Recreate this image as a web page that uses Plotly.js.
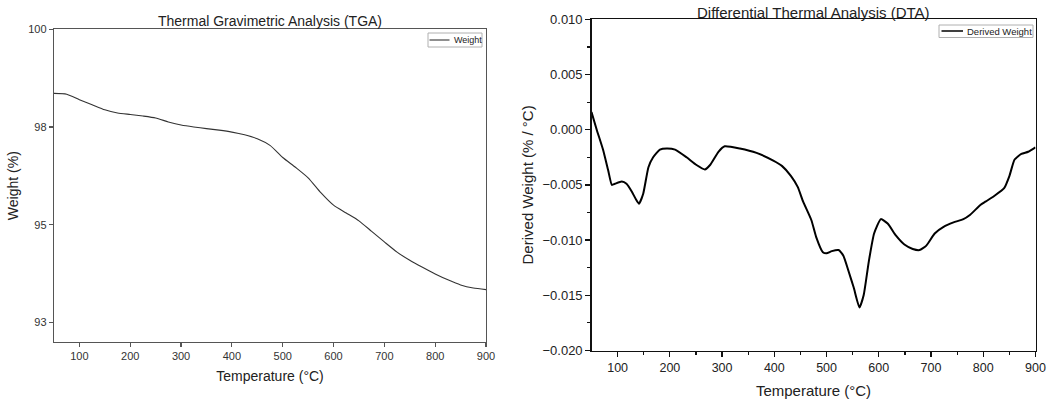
<!DOCTYPE html>
<html>
<head>
<meta charset="utf-8">
<script src="https://cdn.plot.ly/plotly-3.0.1.min.js"></script>
<style>html,body{margin:0;padding:0;background:#fff;}#chart{width:1051px;height:400px;}</style>
</head>
<body>
<div id="chart"></div>
<script>
// TGA: temperature (°C) and weight (%)
const tgaTemp = [50,75,100,125,150,175,200,225,250,275,300,325,350,375,400,425,450,475,500,525,550,575,600,625,650,675,700,725,750,775,800,825,850,875,900];
const tgaWeight = [98.36,98.34,98.20,98.07,97.94,97.86,97.82,97.78,97.73,97.63,97.55,97.50,97.46,97.42,97.37,97.30,97.20,97.03,96.72,96.47,96.20,95.82,95.50,95.30,95.10,94.83,94.56,94.30,94.09,93.91,93.74,93.59,93.46,93.38,93.34];

// DTA: temperature (°C) and derived weight (% / °C)
const dtaTemp = [50,60,72,82,89,95,108,117,127,135,141,149,159,168,181,194,210,232,251,267,277,293,305,334,366,398,415,432,445,455,471,480,493,500,510,523,532,542,552,563,571,581,591,604,617,633,649,665,678,691,707,724,743,762,775,795,805,821,840,850,860,873,886,900];
const dtaDeriv = [0.0016,0.0000,-0.0018,-0.0037,-0.0050,-0.0049,-0.0047,-0.0049,-0.0056,-0.0063,-0.0067,-0.0058,-0.0034,-0.0025,-0.0018,-0.0017,-0.0018,-0.0025,-0.0032,-0.0036,-0.0032,-0.0020,-0.0015,-0.0017,-0.0021,-0.0028,-0.0033,-0.0042,-0.0052,-0.0065,-0.0082,-0.0097,-0.0111,-0.0112,-0.0110,-0.0109,-0.0114,-0.0128,-0.0143,-0.0161,-0.0150,-0.0119,-0.0094,-0.0081,-0.0085,-0.0096,-0.0104,-0.0108,-0.0109,-0.0105,-0.0094,-0.0088,-0.0084,-0.0081,-0.0077,-0.0068,-0.0065,-0.0060,-0.0053,-0.0042,-0.0027,-0.0022,-0.0020,-0.0016];

// Tick labels
const tempTicks = [100,200,300,400,500,600,700,800,900];
const weightTickVals = [92.5,95,97.5,100];
const weightTickText = ['93','95','98','100'];
const seriesNames = ['Weight','Derived Weight'];

const FONT = 'Liberation Sans, Arial, sans-serif';
const W = 1051, H = 400;
const px = v => v / W;
const py = v => 1 - v / H;

const traces = [
  {x: tgaTemp, y: tgaWeight, type: 'scatter', mode: 'lines', name: seriesNames[0],
   line: {color: '#333', width: 1.1, shape: 'spline', smoothing: 0.6},
   xaxis: 'x', yaxis: 'y', showlegend: false},
  {x: dtaTemp, y: dtaDeriv, type: 'scatter', mode: 'lines', name: seriesNames[1],
   line: {color: '#000', width: 2, shape: 'spline', smoothing: 0.5},
   xaxis: 'x2', yaxis: 'y2', showlegend: false}
];

const leftAxisCommon = {
  showline: true, linecolor: '#555', linewidth: 1.2, mirror: true,
  showgrid: false, zeroline: false, ticks: 'outside', ticklen: 4, tickwidth: 1.2, tickcolor: '#555',
  tickfont: {family: FONT, size: 11, color: '#333'}
};
const rightAxisCommon = {
  showline: true, linecolor: '#111', linewidth: 1.3, mirror: true,
  showgrid: false, zeroline: false, ticks: 'outside', ticklen: 5, tickwidth: 1.3, tickcolor: '#111',
  tickfont: {family: FONT, size: 12.5, color: '#222'}
};

const layout = {
  width: W, height: H,
  margin: {l: 0, r: 0, t: 0, b: 0},
  paper_bgcolor: '#fff', plot_bgcolor: '#fff',
  font: {family: FONT, color: '#222'},
  showlegend: false,
  xaxis: Object.assign({}, leftAxisCommon, {
    domain: [px(54), px(486)], range: [50, 900], tickvals: tempTicks,
    title: {text: 'Temperature (°C)', font: {family: FONT, size: 14, color: '#222'}, standoff: 9},
    anchor: 'y'
  }),
  yaxis: Object.assign({}, leftAxisCommon, {
    domain: [py(342), py(29.3)], range: [92, 100],
    tickvals: weightTickVals, ticktext: weightTickText,
    title: {text: 'Weight (%)', font: {family: FONT, size: 14, color: '#222'}, standoff: 6},
    anchor: 'x'
  }),
  xaxis2: Object.assign({}, rightAxisCommon, {
    domain: [px(591.5), px(1035.5)], range: [50, 900], tickvals: tempTicks,
    minor: {ticks: 'outside', ticklen: 3, tickwidth: 1.2, tickcolor: '#111', tickvals: [150,250,350,450,550,650,750,850]},
    title: {text: 'Temperature (°C)', font: {family: FONT, size: 15, color: '#222'}, standoff: 11},
    anchor: 'y2'
  }),
  yaxis2: Object.assign({}, rightAxisCommon, {
    domain: [py(350.5), py(19.3)], range: [-0.020, 0.010],
    tick0: 0, dtick: 0.005, tickformat: '.3f',
    tickfont: {family: FONT, size: 13, color: '#222'},
    minor: {ticks: 'outside', ticklen: 3, tickwidth: 1.2, tickcolor: '#111', tickvals: [-0.0175,-0.0125,-0.0075,-0.0025,0.0025,0.0075]},
    title: {text: 'Derived Weight (% / °C)', font: {family: FONT, size: 15, color: '#222'}, standoff: 5},
    anchor: 'x2'
  }),
  shapes: [
    // legend boxes and line samples
    {type: 'rect', xref: 'paper', yref: 'paper', x0: px(428), x1: px(482), y0: py(47), y1: py(33),
     line: {color: '#b0b0b0', width: 1}, fillcolor: '#fff'},
    {type: 'line', xref: 'paper', yref: 'paper', x0: px(429.5), x1: px(449.5), y0: py(40), y1: py(40),
     line: {color: '#333', width: 1.1}},
    {type: 'rect', xref: 'paper', yref: 'paper', x0: px(939), x1: px(1033), y0: py(37.5), y1: py(25),
     line: {color: '#b0b0b0', width: 1}, fillcolor: '#fff'},
    {type: 'line', xref: 'paper', yref: 'paper', x0: px(941.5), x1: px(963), y0: py(31), y1: py(31),
     line: {color: '#000', width: 1.5}}
  ],
  annotations: [
    {text: 'Thermal Gravimetric Analysis (TGA)', xref: 'paper', yref: 'paper',
     x: px(270), y: py(21), xanchor: 'center', yanchor: 'middle', showarrow: false,
     font: {family: FONT, size: 14, color: '#222'}},
    {text: 'Differential Thermal Analysis (DTA)', xref: 'paper', yref: 'paper',
     x: px(813.5), y: py(12), xanchor: 'center', yanchor: 'middle', showarrow: false,
     font: {family: FONT, size: 15, color: '#222'}},
    {text: seriesNames[0], xref: 'paper', yref: 'paper',
     x: px(452), y: py(40), xanchor: 'left', yanchor: 'middle', showarrow: false,
     font: {family: FONT, size: 9, color: '#222'}},
    {text: seriesNames[1], xref: 'paper', yref: 'paper',
     x: px(964.5), y: py(31.2), xanchor: 'left', yanchor: 'middle', showarrow: false,
     font: {family: FONT, size: 9.5, color: '#222'}}
  ]
};

Plotly.newPlot('chart', traces, layout, {displayModeBar: false, staticPlot: true});
</script>
</body>
</html>
